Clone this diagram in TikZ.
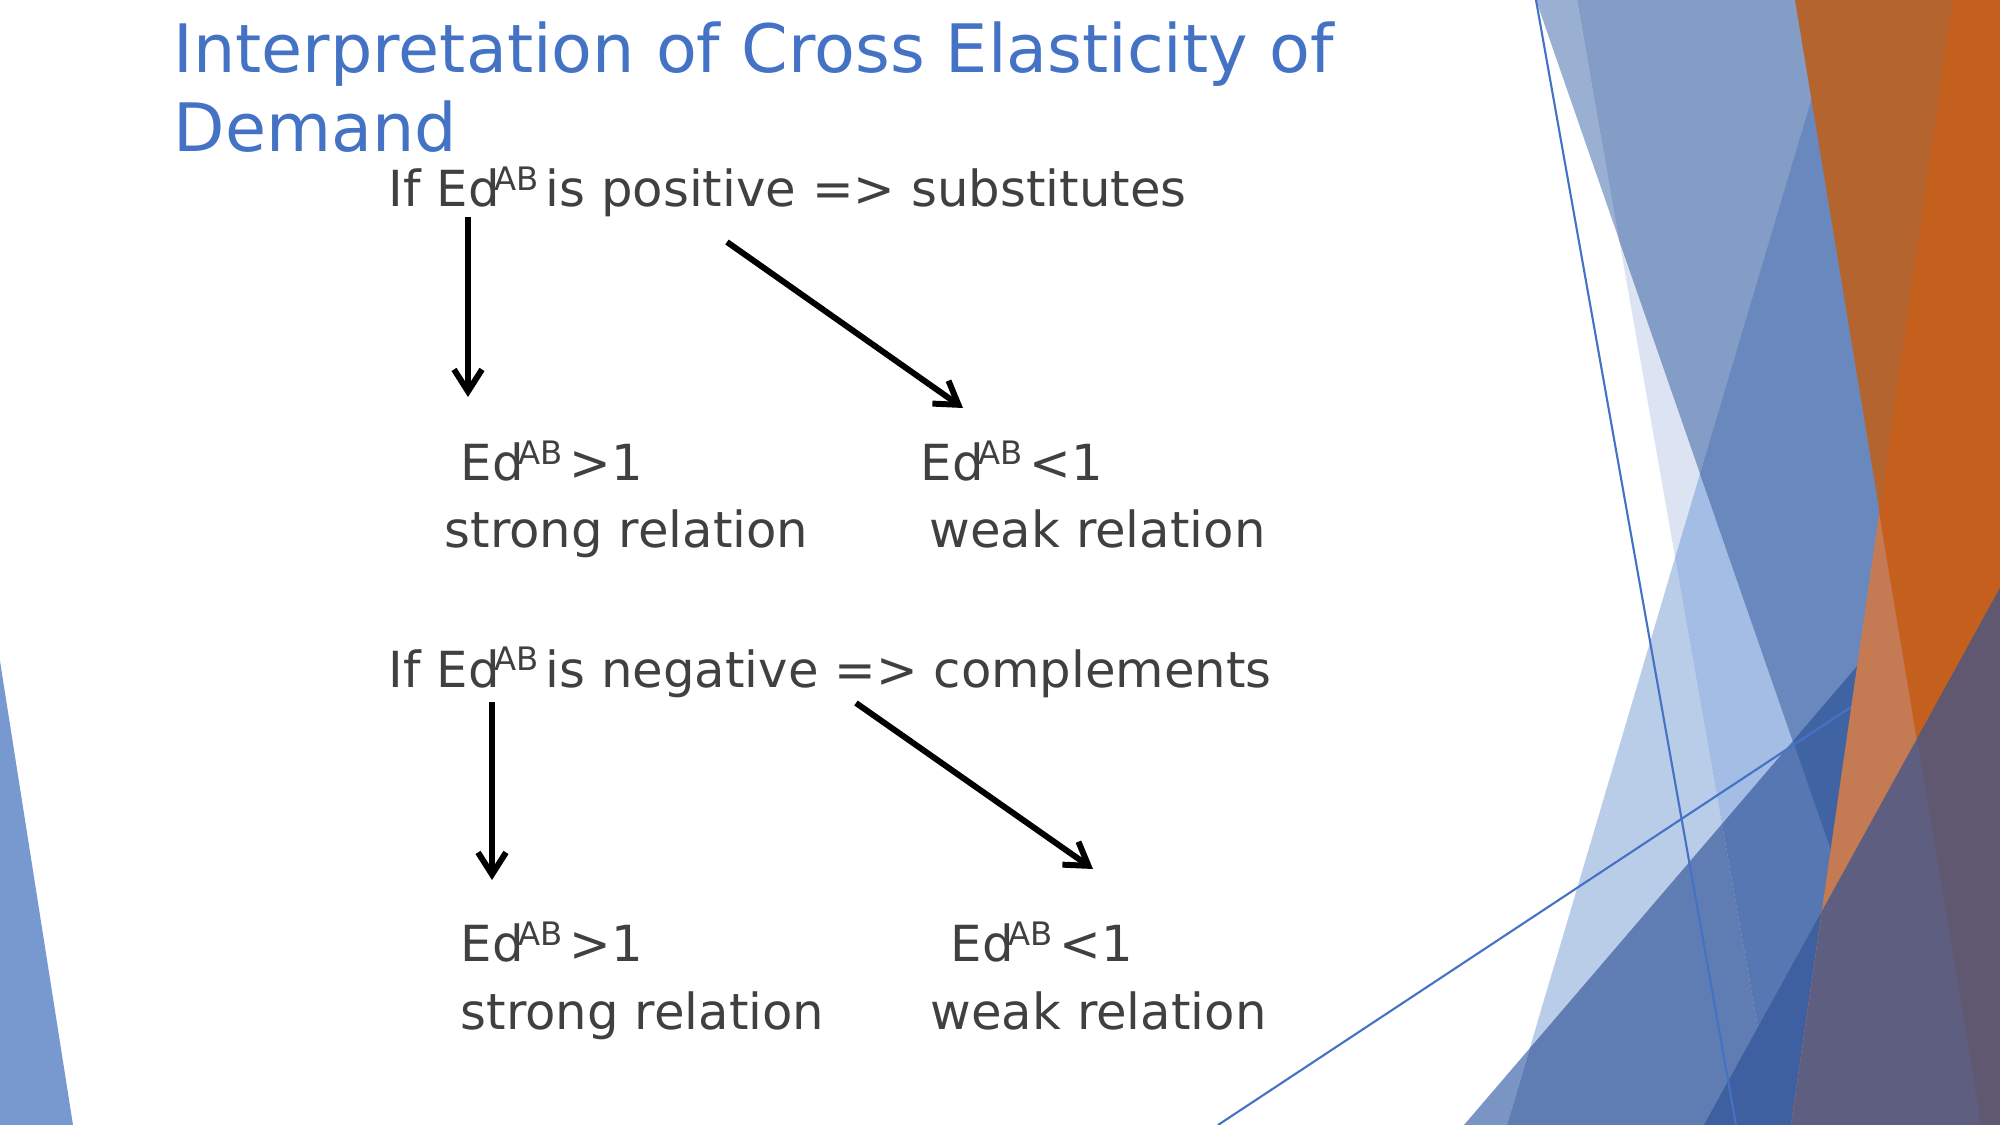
\documentclass[tikz,border=0pt]{standalone}
\usepackage{fontspec}
\setmainfont{DejaVu Sans}
\usetikzlibrary{arrows.meta}
\definecolor{titleblue}{RGB}{68,114,196}
\definecolor{bodygray}{RGB}{64,64,64}
\definecolor{facetleft}{RGB}{119,153,208}
\definecolor{facetband}{RGB}{154,176,211}
\definecolor{facetpale}{RGB}{220,227,242}
\definecolor{facetsteel}{RGB}{132,157,198}
\definecolor{facetlight}{RGB}{185,204,232}
\definecolor{facetsky}{RGB}{164,189,228}
\definecolor{facetmid}{RGB}{105,137,190}
\definecolor{facetdA}{RGB}{122,148,196}
\definecolor{facetdB}{RGB}{95,125,179}
\definecolor{facetdC}{RGB}{86,119,177}
\definecolor{facetdD}{RGB}{64,100,163}
\definecolor{facetdE}{RGB}{62,95,160}
\definecolor{orangedark}{RGB}{180,101,47}
\definecolor{orangesalmon}{RGB}{196,122,82}
\definecolor{orangebright}{RGB}{197,95,30}
\definecolor{facetgrey}{RGB}{94,95,128}
\definecolor{facetplum}{RGB}{95,88,112}
\newcommand{\EdAB}{Ed\kern-1.5pt\raisebox{4.7pt}{\fontsize{9.2pt}{10pt}\selectfont AB}\hspace{2pt}}

\begin{document}
\begin{tikzpicture}[x=0.1mm,y=-0.1mm,
  titletext/.style={text=titleblue,font=\fontsize{19pt}{23pt}\selectfont,inner sep=0pt,anchor=base west},
  bodytext/.style={text=bodygray,font=\fontsize{14.15pt}{17pt}\selectfont,inner sep=0pt,anchor=base west},
  arr/.style={line width=1.7pt,-{Straight Barb[length=2.2mm,width=2.8mm]}},
  facetline/.style={titleblue,line width=0.6pt}]
  \useasboundingbox (0,0) rectangle (2000,1125);
  \fill[white] (0,0) rectangle (2000,1125);
  % left facet
  \fill[facetleft] (0,661) -- (73,1125) -- (0,1125) -- cycle;
  % right facets, back to front
  \fill[facetband] (1536,0) -- (2000,0) -- (2000,1125) -- (1926,1125) -- cycle;
  \fill[facetpale] (1577,0) -- (2000,0) -- (2000,1125) -- (1775,1125) -- cycle;
  \fill[facetsteel] (1577,0) -- (2000,0) -- (2000,1125) -- (1926,1125) -- (1619,240) -- cycle;
  \fill[facetlight] (1675,558) -- (1775,1125) -- (1507,1125) -- cycle;
  \fill[facetsky] (1675,558) -- (1700,474) -- (1926,1125) -- (1775,1125) -- cycle;
  \fill[facetmid] (1700,474) -- (1841,0) -- (2000,0) -- (2000,1125) -- (1926,1125) -- cycle;
  \fill[facetdA] (1464,1125) -- (1530,1048) -- (1507,1125) -- cycle;
  \fill[facetdB] (1530,1048) -- (1722,824) -- (1775,1125) -- (1507,1125) -- cycle;
  \fill[facetdC] (1722,824) -- (1793,741) -- (1926,1125) -- (1775,1125) -- cycle;
  \fill[facetdD] (1793,741) -- (2000,499) -- (2000,1125) -- (1926,1125) -- cycle;
  \fill[facetdE] (1704,1125) -- (1822,911) -- (1791,1125) -- cycle;
  % thin lines
  \draw[facetline] (1536,0) -- (1736,1125);
  \draw[facetline] (1218,1125) -- (1851,707);
  % orange and grey facets
  \fill[orangedark] (1795,0) -- (2000,0) -- (2000,1125) -- (1981,1125) -- cycle;
  \fill[orangesalmon] (1953,0) -- (2000,0) -- (2000,1125) -- (1791,1125) -- cycle;
  \fill[orangebright] (1953,0) -- (2000,0) -- (2000,1125) -- (1981,1125) -- (1879,512) -- cycle;
  \fill[facetgrey] (1822,911) -- (2000,588) -- (2000,1125) -- (1791,1125) -- cycle;
  \fill[facetplum] (1917,739) -- (2000,588) -- (2000,1125) -- (1981,1125) -- cycle;

  % title
  \node[titletext] (title) at (173,73) {Interpretation of Cross Elasticity of};
  \node[titletext] (titlecont) at (173,152) {Demand};

  % substitutes
  \node[bodytext] (pos) at (388,207) {If \EdAB is positive => substitutes};
  \node[bodytext] (posstrong) at (460,481) {\EdAB>1};
  \node[bodytext] (posstrongtxt) at (444,548) {strong relation};
  \node[bodytext] (posweak) at (920,481) {\EdAB<1};
  \node[bodytext] (posweaktxt) at (929,548) {weak relation};

  % complements
  \node[bodytext] (neg) at (388,687) {If \EdAB is negative => complements};
  \node[bodytext] (negstrong) at (460,962) {\EdAB>1};
  \node[bodytext] (negstrongtxt) at (460,1030) {strong relation};
  \node[bodytext] (negweak) at (950,962) {\EdAB<1};
  \node[bodytext] (negweaktxt) at (930,1030) {weak relation};

  % arrows
  \coordinate (posa) at (468,217);
  \coordinate (posb) at (727,242);
  \coordinate (posstrongtip) at (468,397);
  \coordinate (posweaktip) at (963,408);
  \coordinate (nega) at (492,702);
  \coordinate (negb) at (856,703);
  \coordinate (negstrongtip) at (492,880);
  \coordinate (negweaktip) at (1093,869);
  \draw[arr] (posa) -- (posstrongtip);
  \draw[arr] (posb) -- (posweaktip);
  \draw[arr] (nega) -- (negstrongtip);
  \draw[arr] (negb) -- (negweaktip);
\end{tikzpicture}
\end{document}
